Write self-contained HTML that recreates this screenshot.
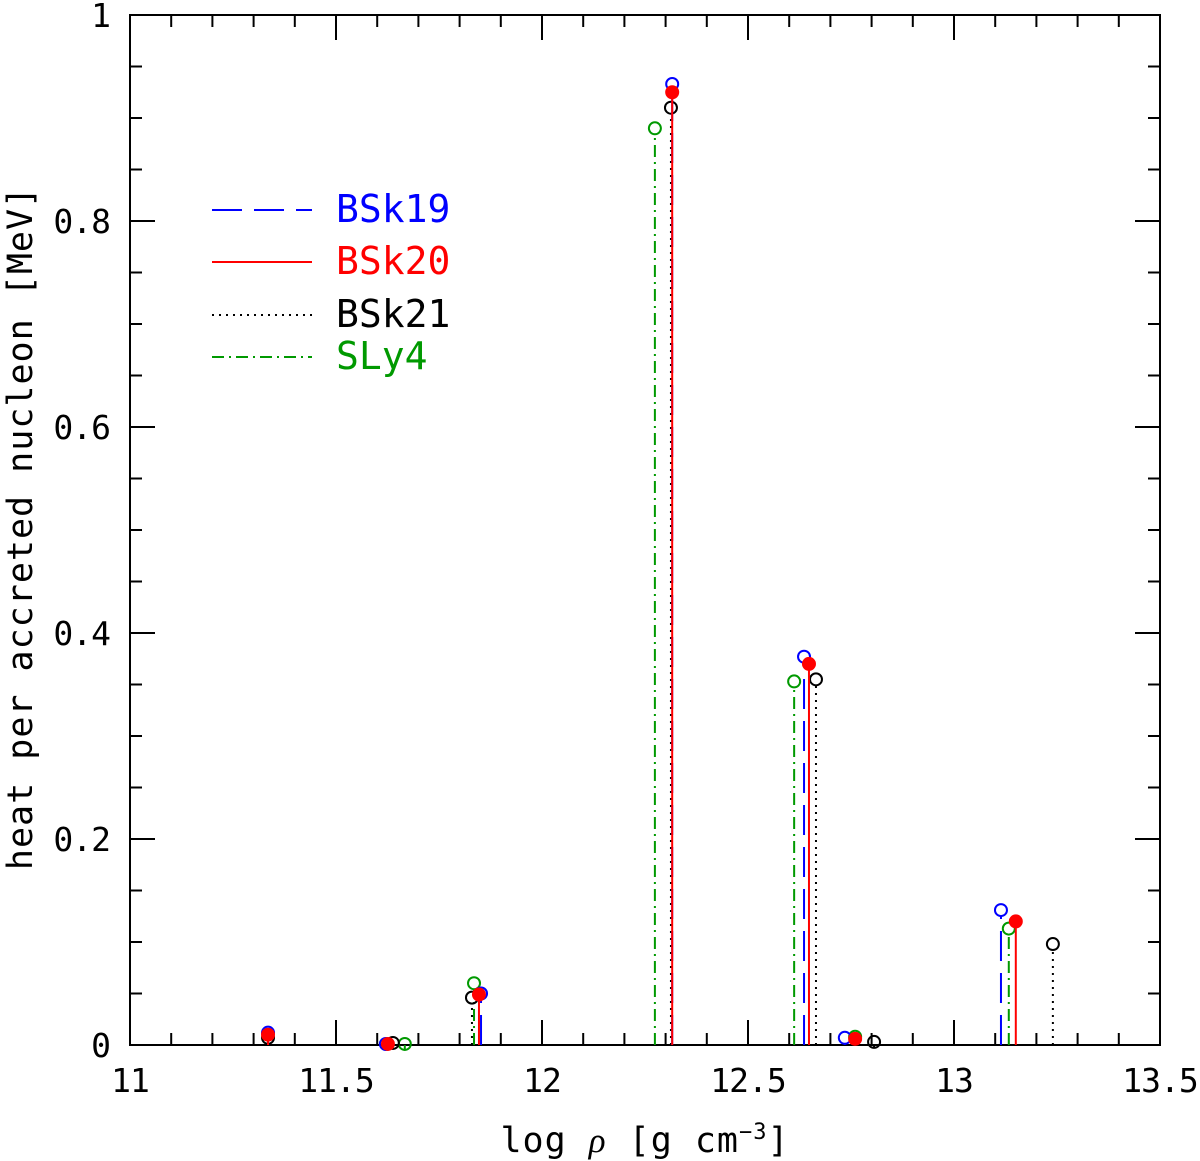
<!DOCTYPE html>
<html><head><meta charset="utf-8"><style>body{margin:0;background:#fff}svg{display:block}</style></head>
<body>
<svg id="chart" width="1200" height="1161" xmlns="http://www.w3.org/2000/svg" font-family="'DejaVu Sans Mono','Liberation Mono',monospace">
<g id="ticks"></g>
<rect x="130" y="15" width="1030" height="1030" fill="none" stroke="#000" stroke-width="2"/>
<g id="marks"></g>
<g id="labels" font-size="33" letter-spacing="-1"></g>
<text x="645" y="1152" font-size="35" letter-spacing="1" text-anchor="middle">log <tspan font-style="italic" font-family="'Liberation Serif',serif">ρ</tspan> [g cm<tspan font-size="22" dy="-13">−3</tspan><tspan dy="13">]</tspan></text>
<text transform="translate(32,528) rotate(-90)" font-size="35" letter-spacing="1" text-anchor="middle">heat per accreted nucleon [MeV]</text>
<g font-size="38">
<line x1="212" y1="210" x2="312" y2="210" stroke="blue" stroke-width="2" stroke-dasharray="30,12"/>
<text x="336" y="222" fill="blue">BSk19</text>
<line x1="212" y1="262" x2="312" y2="262" stroke="red" stroke-width="2"/>
<text x="336" y="274" fill="red">BSk20</text>
<line x1="212" y1="315" x2="312" y2="315" stroke="#000" stroke-width="2" stroke-dasharray="2,5"/>
<text x="336" y="327" fill="#000">BSk21</text>
<line x1="212" y1="357" x2="312" y2="357" stroke="#090" stroke-width="2" stroke-dasharray="12,5,2,5"/>
<text x="336" y="369" fill="#090">SLy4</text>
</g>
</svg>
<script>
const xTicks=[11,11.5,12,12.5,13,13.5];
const yTicks=[0,0.2,0.4,0.6,0.8,1];
const xLabels=["11","11.5","12","12.5","13","13.5"];
const yLabels=["0","0.2","0.4","0.6","0.8","1"];
const bsk19X=[11.335,11.621,11.852,12.316,12.636,12.735,13.114];
const bsk19Y=[0.012,0.001,0.050,0.933,0.377,0.007,0.131];
const bsk20X=[11.335,11.626,11.847,12.316,12.648,12.760,13.150];
const bsk20Y=[0.010,0.001,0.049,0.925,0.370,0.006,0.120];
const bsk21X=[11.335,11.638,11.830,12.313,12.665,12.806,13.240];
const bsk21Y=[0.007,0.002,0.046,0.910,0.355,0.003,0.098];
const sly4X=[11.667,11.835,12.274,12.612,12.760,13.133];
const sly4Y=[0.001,0.060,0.890,0.353,0.008,0.113];
const NS="http://www.w3.org/2000/svg";
const xs=v=>130+(v-11)*412, ys=v=>1045-v*1030;
function mk(t,a,p){const e=document.createElementNS(NS,t);for(const k in a)e.setAttribute(k,a[k]);p.appendChild(e);return e;}
const tk=document.getElementById('ticks'),lb=document.getElementById('labels'),mg=document.getElementById('marks');
for(let i=0;i<=25;i++){const v=11+i*0.1,x=xs(v),L=(i%5==0)?25:12;
 let l=mk('line',{x1:x,y1:1045,x2:x,y2:1045-L,stroke:'#000','stroke-width':2},tk);
 
 l=mk('line',{x1:x,y1:15,x2:x,y2:15+L,stroke:'#000','stroke-width':2},tk);
 }
for(let i=0;i<=20;i++){const v=i*0.05,y=ys(v),L=(i%4==0)?25:12;
 let l=mk('line',{x1:130,y1:y,x2:130+L,y2:y,stroke:'#000','stroke-width':2},tk);
 
 l=mk('line',{x1:1160,y1:y,x2:1160-L,y2:y,stroke:'#000','stroke-width':2},tk);
 }
xTicks.forEach((v,i)=>{const t=mk('text',{x:xs(v),y:1092,'text-anchor':'middle'},lb);t.textContent=xLabels[i];
 });
yTicks.forEach((v,i)=>{const t=mk('text',{x:110,y:ys(v)+12,'text-anchor':'end'},lb);t.textContent=yLabels[i];
 });
function series(X,Y,col,dash,fill,name){X.forEach((v,i)=>{const x=xs(v),y=ys(Y[i]);
 const l=mk('line',{x1:x,y1:1045,x2:x,y2:y+6,stroke:col,'stroke-width':2,'stroke-dasharray':dash},mg);
 
 const c=mk('circle',{cx:x,cy:y,r:6,fill:fill,stroke:col,'stroke-width':2},mg);
 });}
series(sly4X,sly4Y,'#090','12,5,2,5','none','sly4');
series(bsk21X,bsk21Y,'#000','2,5','none','bsk21');
series(bsk19X,bsk19Y,'blue','30,12','none','bsk19');
series(bsk20X,bsk20Y,'red','none','red','bsk20');
</script>
</body></html>
